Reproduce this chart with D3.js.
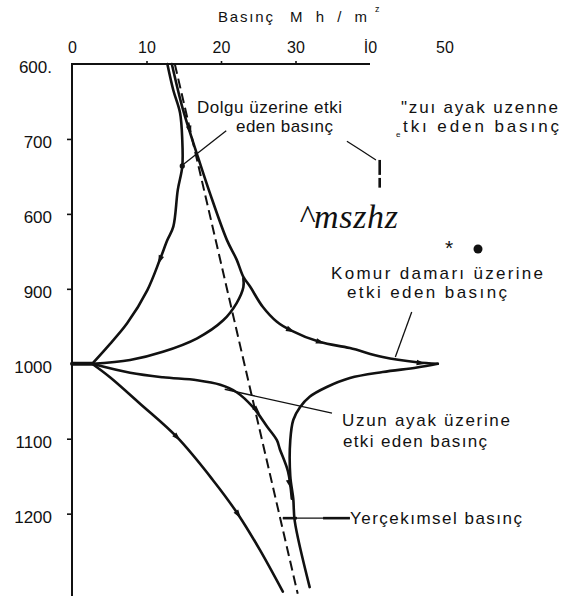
<!DOCTYPE html>
<meta charset="utf-8">
<title>Basınç - derinlik</title>
<style>
body{margin:0;background:#fff;}
text{font-family:"Liberation Sans",Arial,sans-serif;fill:#111;}
.curve{fill:none;stroke:#111;stroke-width:2.6px;stroke-linejoin:round;stroke-linecap:round;}
.dash{fill:none;stroke:#111;stroke-width:2px;stroke-dasharray:10,5;}
.leader{fill:none;stroke:#111;stroke-width:1.3px;}
.axisline{stroke:#111;stroke-width:2px;}
.tick line{stroke:#111;stroke-width:1.6px;}
</style>
<body>
<script src="https://d3js.org/d3.v7.min.js"></script>
<script>

var xTicks = [0,10,20,30,40,50];
var xTickLabels = ["0","10","20","30","İ0","50"];
var yTicks = [600,700,800,900,1000,1100,1200];
var yTickLabels = ["600.","700","600","900","1000","1100","1200"];

// [basınç Mh/m2, derinlik m]
var dolgu = [[12.8,600],[13.6,635],[14.5,665],[14.8,701],[14.8,737],[14.2,768],[13.6,817],
	[12.8,835],[11.8,861],[10.1,902],[7.4,946],[4.7,978],[2.7,1000]];
var komurUst = [[13.4,600],[14.9,661],[16.9,724],[18.5,772],[20.8,835],[22.1,861],[23.0,884],
	[23.9,897],[25.6,924],[27.5,944],[29.3,955],[33.3,971],[37.3,979],[41.7,991],[46.3,998],[49.1,1000]];
var komurAlt = [[49.1,1000],[46.3,1005],[41.7,1011],[37.3,1019],[34.2,1031],[31.9,1044],[30.6,1058],
	[29.7,1075],[29.3,1102],[29.3,1150],[29.7,1180],[29.9,1210],[31.9,1298]];
var uzunUst = [[2.7,1000],[7.8,995],[12.2,984],[16.8,966],[20.3,942],[22.1,919],[23.0,898],[23.0,886]];
var uzunAlt = [[2.7,1000],[7.8,1012],[12.2,1018],[16.8,1022],[19.9,1028],[22.1,1038],[24.3,1058],
	[26.2,1084],[27.5,1102],[27.9,1114],[29.0,1144],[29.5,1180]];
var solAlt = [[2.7,1000],[5.1,1018],[9.1,1053],[14.1,1098],[18.9,1155],[22.3,1201],[25.2,1248],[28.3,1304]];
var yercekimi = [[13.8,600],[30.3,1307]];
var taban = [[0,1000],[2.7,1000]];

// ok işaretleri: [eğri, basınç, derinlik]
var oklar = [["dolgu",11.8,861],["komurUst",15.8,688],["komurUst",29.3,955],["komurUst",33.3,971],
	["komurUst",46.8,999],["uzunAlt",24.8,1062],["uzunAlt",29.2,1160],["solAlt",14.1,1098],["solAlt",22.3,1201]];

var egriler = {dolgu:dolgu, komurUst:komurUst, komurAlt:komurAlt, uzunUst:uzunUst, uzunAlt:uzunAlt, solAlt:solAlt};

var svg = d3.select("body").append("svg").attr("width",561).attr("height",599);

var x = d3.scaleLinear().domain([0,40]).range([72,370]);
var y = d3.scaleLinear().domain([600,1300]).range([64,588.6]);

var line = d3.line().x(d=>x(d[0])).y(d=>y(d[1])).curve(d3.curveCatmullRom.alpha(0.5));

// eksenler
var xa = svg.append("g").attr("transform","translate(0,"+y(600)+")")
	.call(d3.axisTop(x).tickValues(xTicks).tickFormat((d,i)=>xTickLabels[i]).tickSize(3).tickPadding(8));
xa.select(".domain").remove();
xa.selectAll(".tick").filter(d=>d==0||d>=40).select("line").remove();
xa.selectAll("text").style("font-size","16px").attr("fill","#111");

svg.append("line").attr("class","axisline")
	.attr("x1",x(0)-1).attr("x2",x(40)).attr("y1",y(600)).attr("y2",y(600));

var ya = svg.append("g").attr("transform","translate("+x(0)+",0)")
	.call(d3.axisLeft(y).tickValues(yTicks).tickFormat((d,i)=>yTickLabels[i]).tickSize(5).tickPadding(15));
ya.select(".domain").remove();
ya.selectAll(".tick").filter(d=>d==600||d==1000).select("line").remove();
ya.selectAll("text").style("font-size","17px").attr("fill","#111").attr("y",3);

svg.append("line").attr("class","axisline")
	.attr("x1",x(0)).attr("x2",x(0)).attr("y1",y(600)-1).attr("y2",y(1310));

// eğriler
svg.append("path").datum(yercekimi).attr("class","dash").attr("d",line);
Object.keys(egriler).forEach(function(k){
	svg.append("path").datum(egriler[k]).attr("class","curve").attr("d",line);
});
svg.append("path").datum(taban).attr("class","curve").style("stroke-width","4px").attr("d",line);

// oklar
oklar.forEach(function(o){
	var pts = egriler[o[0]].map(d=>[x(d[0]),y(d[1])]);
	var px = x(o[1]), py = y(o[2]);
	var best = 0, bd = 1e9;
	pts.forEach(function(p,i){ var dd=(p[0]-px)*(p[0]-px)+(p[1]-py)*(p[1]-py); if(dd<bd){bd=dd;best=i;} });
	var a = pts[Math.max(best-1,0)], b = pts[Math.min(best+1,pts.length-1)];
	var ang = Math.atan2(b[1]-a[1], b[0]-a[0])*180/Math.PI;
	svg.append("path").attr("d","M5,0L-4,-2.8L-4,2.8Z").attr("fill","#111")
		.attr("transform","translate("+px+","+py+") rotate("+ang+")");
});

// açıklama çizgileri
var lline = d3.line().x(d=>x(d[0])).y(d=>y(d[1]));
[
	[[20.7,689],[14.8,735]],
	[[36.9,703],[38.8,715],[40.8,728]],
	[[45.6,931],[43.4,991]],
	[[20.5,1034],[34.9,1066]],
	[[28.3,1206],[37.3,1206]]
].forEach(function(p){ svg.append("path").datum(p).attr("class","leader").attr("d",lline); });
[
	[[41.3,728],[41.3,748]],
	[[41.3,752],[41.3,765]],
	[[28.3,1206],[30.2,1206]],
	[[33.7,1206],[37.3,1206]]
].forEach(function(p){ svg.append("path").datum(p).attr("class","leader").style("stroke-width","2.6px").attr("d",lline); });
svg.append("circle").attr("cx",x(14.8)).attr("cy",y(736)).attr("r",2.6).attr("fill","#111");

// yazılar
var notlar = [
	{t:"Basınç", x:218, y:22, w:55, s:15},
	{t:"M h / m", x:290, y:22, w:77, s:15},
	{t:"z", x:375, y:12, s:9},
	{t:"Dolgu üzerine etki", x:197, y:113, w:145, s:17},
	{t:"eden basınç", x:236, y:132, w:97, s:17},
	{t:"\"zuı ayak uzenne", x:401, y:113, w:157, s:17},
	{t:"e", x:396, y:137, s:8},
	{t:"tkı eden basınç", x:403, y:132, w:156, s:17},
	{t:"Komur damarı üzerine", x:331, y:279, w:212, s:17},
	{t:"etki eden basınç", x:347, y:298, w:160, s:17},
	{t:"Uzun ayak üzerine", x:342, y:426, w:168, s:17},
	{t:"etki eden basınç", x:343, y:447, w:144, s:17},
	{t:"Yerçekımsel basınç", x:350, y:524, w:172, s:17},
	{t:"*", x:445, y:255, s:21}
];
notlar.forEach(function(n){
	var t = svg.append("text").attr("x",n.x).attr("y",n.y).style("font-size",n.s+"px").text(n.t);
	if(n.w) t.attr("textLength",n.w).attr("lengthAdjust","spacing");
});
svg.append("text").attr("x",299).attr("y",228)
	.style("font-family","'Liberation Serif','Times New Roman',serif").style("font-style","italic")
	.style("font-size","34px").attr("textLength",99).attr("lengthAdjust","spacing").text("^mszhz");
svg.append("circle").attr("cx",478).attr("cy",249).attr("r",4.5).attr("fill","#111");

</script>
</body>
